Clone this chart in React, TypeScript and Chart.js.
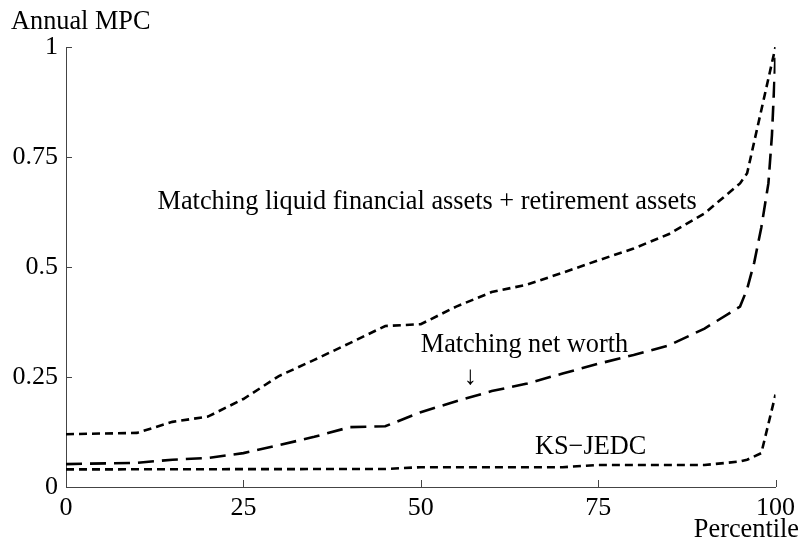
import { useEffect, useRef } from "react";
import { Chart, registerables } from "chart.js";

Chart.register(...registerables);

// Percentile grid and MPC values
const liquidX = [0, 10, 15, 20, 25, 30, 35, 40, 45, 50, 55, 60, 65, 70, 75, 80, 85, 90, 95, 96, 100];
const liquidY = [0.12, 0.123, 0.148, 0.16, 0.2, 0.252, 0.289, 0.327, 0.366, 0.37, 0.41, 0.443, 0.46, 0.487, 0.515, 0.542, 0.575, 0.622, 0.69, 0.713, 1.0];

const netWorthX = [0, 10, 15, 20, 25, 30, 35, 40, 45, 50, 55, 60, 65, 70, 75, 80, 85, 90, 95, 96, 97, 98, 99, 99.5, 100];
const netWorthY = [0.052, 0.055, 0.062, 0.066, 0.077, 0.095, 0.114, 0.136, 0.138, 0.17, 0.195, 0.218, 0.235, 0.258, 0.28, 0.3, 0.322, 0.36, 0.41, 0.45, 0.51, 0.59, 0.69, 0.8, 0.98];

const ksX = [0, 45, 50, 70, 75, 90, 95, 96, 98, 100];
const ksY = [0.04, 0.041, 0.045, 0.045, 0.05, 0.05, 0.058, 0.062, 0.077, 0.21];

const xTicks = [0, 25, 50, 75, 100];
const yTicks = [0, 0.25, 0.5, 0.75, 1];

// text annotations in data coordinates (left/center x, baseline y)
const annotations = [
  { text: "Matching liquid financial assets + retirement assets", x: 12.9, y: 0.632, align: "left" },
  { text: "Matching net worth", x: 50.0, y: 0.307, align: "left" },
  { text: "\u2193", x: 57.0, y: 0.234, align: "center" },
  { text: "KS\u2212JEDC", x: 66.1, y: 0.075, align: "left" },
];

const FONT = '"Liberation Serif", "Times New Roman", serif';

const toPts = (xs: number[], ys: number[]) => xs.map((x, i) => ({ x, y: ys[i] }));

const decorPlugin = {
  id: "decor",
  afterDraw(chart: any) {
    const ctx = chart.ctx;
    const xs = chart.scales.x;
    const ys = chart.scales.y;
    const area = chart.chartArea;
    ctx.save();
    // inward ticks
    ctx.strokeStyle = "#444";
    ctx.lineWidth = 1;
    ctx.beginPath();
    xTicks.forEach((v) => {
      const px = Math.round(xs.getPixelForValue(v)) + 0.5;
      ctx.moveTo(px, area.bottom);
      ctx.lineTo(px, area.bottom - 7);
    });
    yTicks.forEach((v) => {
      const py = Math.round(ys.getPixelForValue(v)) + 0.5;
      ctx.moveTo(area.left, py);
      ctx.lineTo(area.left + 6, py);
    });
    ctx.stroke();
    // texts
    ctx.fillStyle = "#000";
    ctx.font = `26.3px ${FONT}`;
    ctx.textBaseline = "alphabetic";
    annotations.forEach((a) => {
      ctx.textAlign = a.align as CanvasTextAlign;
      ctx.fillText(a.text, xs.getPixelForValue(a.x), ys.getPixelForValue(a.y));
    });
    ctx.textAlign = "left";
    ctx.fillText("Annual MPC", 11, 29);
    ctx.textAlign = "right";
    ctx.fillText("Percentile", 799, 537);
    ctx.restore();
  },
};

export default function App() {
  const ref = useRef<HTMLCanvasElement | null>(null);
  useEffect(() => {
    document.body.style.margin = "0";
    if (!ref.current) return;
    const common = {
      borderColor: "#000",
      borderWidth: 2.6,
      pointRadius: 0,
      fill: false,
      tension: 0,
    };
    const chart = new Chart(ref.current, {
      type: "line",
      data: {
        datasets: [
          { ...common, label: "Matching liquid financial assets + retirement assets", data: toPts(liquidX, liquidY), borderDash: [8, 5] },
          { ...common, label: "Matching net worth", data: toPts(netWorthX, netWorthY), borderDash: [16, 8] },
          { ...common, label: "KS-JEDC", data: toPts(ksX, ksY), borderDash: [8, 5] },
        ],
      },
      options: {
        animation: false,
        responsive: false,
        layout: { padding: { left: 0, top: 47, right: 21, bottom: 0 } },
        plugins: { legend: { display: false }, tooltip: { enabled: false } },
        scales: {
          x: {
            type: "linear",
            min: 0,
            max: 100,
            afterBuildTicks: (s: any) => { s.ticks = xTicks.map((v) => ({ value: v })); },
            afterFit: (s: any) => { s.height = 58; },
            grid: { drawOnChartArea: false, drawTicks: false },
            border: { color: "#444", width: 1 },
            ticks: { color: "#000", font: { family: FONT, size: 26 }, padding: 6, maxRotation: 0, callback: (v: any) => String(v) },
          },
          y: {
            type: "linear",
            min: 0,
            max: 1,
            afterBuildTicks: (s: any) => { s.ticks = yTicks.map((v) => ({ value: v })); },
            afterFit: (s: any) => { s.width = 66; },
            grid: { drawOnChartArea: false, drawTicks: false },
            border: { color: "#444", width: 1 },
            ticks: { color: "#000", font: { family: FONT, size: 26 }, padding: 8, callback: (v: any) => String(v) },
          },
        },
      },
      plugins: [decorPlugin],
    } as any);
    return () => chart.destroy();
  }, []);
  return <canvas ref={ref} width={801} height={545} style={{ display: "block" }} />;
}
